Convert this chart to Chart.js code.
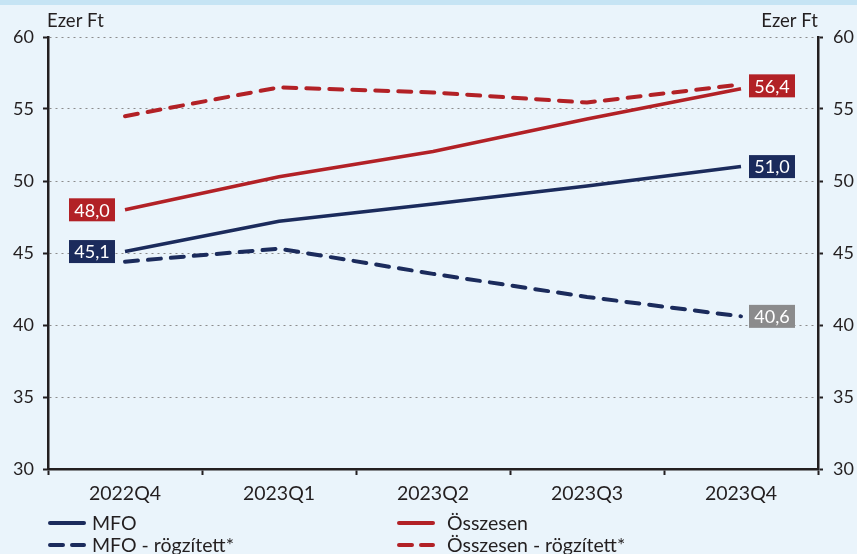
<!DOCTYPE html>
<html>
<head>
<meta charset="utf-8">
<script src="https://cdn.jsdelivr.net/npm/chart.js@4"></script>
<style>
body{margin:0;background:#eaf4fb}
#wrap{width:857px;height:554px}
</style>
</head>
<body>
<div id="wrap"><canvas id="chart" width="857" height="554"></canvas></div>
<script>
const quarters = ["2022Q4","2023Q1","2023Q2","2023Q3","2023Q4"]
const mfo = [45.1,47.2,48.4,49.65,51.0]
const osszesen = [48.0,50.3,52.05,54.3,56.4]
const mfoFixed = [44.4,45.3,43.55,41.95,40.6]
const osszesenFixed = [54.5,56.5,56.15,55.45,56.7]
const yTicks = [30,35,40,45,50,55,60]

const NAVY = "#1b2b5c"
const RED = "#b22126"
const GREY = "#8b8b8c"
const INK = "#231f20"
const FONT = "Lato, 'Open Sans', sans-serif"

// value boxes: dataset index, point index, side, box colour, y nudge
const valueTags = [
  {ds:1, i:0, side:"left", color:RED, dy:0},
  {ds:0, i:0, side:"left", color:NAVY, dy:0},
  {ds:1, i:4, side:"right", color:RED, dy:-3},
  {ds:0, i:4, side:"right", color:NAVY, dy:0},
  {ds:2, i:4, side:"right", color:GREY, dy:0}
]

const decor = {
  id:"decor",
  beforeDraw(c){
    const g = c.ctx
    g.save()
    g.fillStyle = "#eaf4fb"
    g.fillRect(0,0,c.width,c.height)
    g.fillStyle = "#c6e4f4"
    g.fillRect(0,0,c.width,5)
    g.restore()
  },
  afterDraw(c){
    const g = c.ctx
    const a = c.chartArea
    g.save()

    // unit titles
    g.font = "18.5px " + FONT
    g.fillStyle = INK
    g.textBaseline = "alphabetic"
    g.textAlign = "left"
    g.fillText("Ezer Ft", a.left - 1, 27)
    g.textAlign = "right"
    g.fillText("Ezer Ft", a.right, 27)

    // value boxes
    g.font = "18px " + FONT
    g.textAlign = "center"
    g.textBaseline = "middle"
    valueTags.forEach(t => {
      const p = c.getDatasetMeta(t.ds).data[t.i]
      const v = c.data.datasets[t.ds].data[t.i]
      const txt = v.toFixed(1).replace(".", ",")
      const w = 46, h = 23
      const x = t.side == "left" ? p.x - 10 - w : p.x + 8
      const y = p.y + t.dy - h/2
      g.fillStyle = t.color
      g.fillRect(x, y, w, h)
      g.fillStyle = "#ffffff"
      g.fillText(txt, x + w/2, y + h/2 + 1)
    })

    // legend, two columns
    const cols = [{line:48, text:92}, {line:397, text:447}]
    const rows = [523, 545]
    g.font = "19.5px " + FONT
    g.textAlign = "left"
    g.textBaseline = "middle"
    c.data.datasets.forEach((d, k) => {
      const col = cols[k % 2]
      const y = rows[Math.floor(k / 2)]
      g.strokeStyle = d.borderColor
      g.lineWidth = 4
      g.lineCap = "round"
      g.setLineDash(d.borderDash && d.borderDash.length ? [13, 9] : [])
      g.beginPath()
      g.moveTo(col.line + 2, y)
      g.lineTo(col.line + 36, y)
      g.stroke()
      g.setLineDash([])
      g.fillStyle = INK
      g.fillText(d.label, col.text, y + 1)
    })
    g.restore()
  }
}

const ctx = document.getElementById("chart")

const chart = new Chart(ctx,{
  type:"line",
  data:{
    labels:quarters,
    datasets:[
      {label:"MFO", data:mfo, borderColor:NAVY, borderWidth:3.5, borderDash:[]},
      {label:"Összesen", data:osszesen, borderColor:RED, borderWidth:3.5, borderDash:[]},
      {label:"MFO - rögzített*", data:mfoFixed, borderColor:NAVY, borderWidth:4, borderDash:[13,10], borderCapStyle:"round"},
      {label:"Összesen - rögzített*", data:osszesenFixed, borderColor:RED, borderWidth:4, borderDash:[13,10], borderCapStyle:"round"}
    ]
  },
  options:{
    responsive:false,
    animation:false,
    devicePixelRatio:1,
    layout:{padding:{top:37, left:0, right:0, bottom:0}},
    elements:{
      point:{radius:0, hoverRadius:0},
      line:{tension:0, fill:false}
    },
    plugins:{
      legend:{display:false},
      tooltip:{enabled:false}
    },
    scales:{
      x:{
        offset:true,
        afterFit(s){ s.height = 85 },
        grid:{drawOnChartArea:false, offset:true, tickLength:6, tickWidth:2, tickColor:INK},
        border:{color:INK, width:2.5},
        ticks:{color:INK, padding:7, font:{family:FONT, size:19.5}}
      },
      y:{
        position:"left",
        min:30, max:60,
        afterFit(s){ s.width = 48 },
        afterBuildTicks(s){ s.ticks = yTicks.map(v => ({value:v})) },
        grid:{color:"#8c8c8c", lineWidth:1, tickLength:5, tickWidth:2, tickColor:INK},
        border:{color:INK, width:2.5, dash:[2,4]},
        ticks:{color:INK, padding:9, font:{family:FONT, size:18}}
      },
      y2:{
        position:"right",
        min:30, max:60,
        afterFit(s){ s.width = 39 },
        afterBuildTicks(s){ s.ticks = yTicks.map(v => ({value:v})) },
        grid:{drawOnChartArea:false, tickLength:5, tickWidth:2, tickColor:INK},
        border:{color:INK, width:2.5},
        ticks:{color:INK, padding:10, font:{family:FONT, size:18}}
      }
    }
  },
  plugins:[decor]
})
</script>
</body>
</html>
